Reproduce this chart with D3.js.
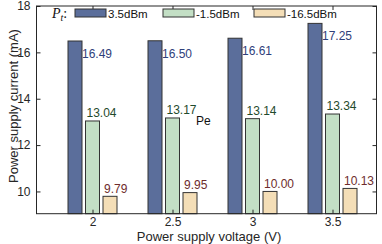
<!DOCTYPE html>
<html>
<head>
<meta charset="utf-8">
<script src="https://cdn.jsdelivr.net/npm/d3@7"></script>
<style>
  body { margin: 0; background: #fff; }
  text { font-family: "Liberation Sans", Arial, sans-serif; }
</style>
</head>
<body>
<svg id="chart" width="382" height="244"></svg>
<script>
// data
let voltages = [2, 2.5, 3, 3.5]
let seriesNames = ["3.5dBm", "-1.5dBm", "-16.5dBm"]
let current_3_5 = [16.49, 16.50, 16.61, 17.25]
let current_m1_5 = [13.04, 13.17, 13.14, 13.34]
let current_m16_5 = [9.79, 9.95, 10.00, 10.13]
let yTicks = [10, 12, 14, 16, 18]

let series = [current_3_5, current_m1_5, current_m16_5]
let fills = ["#5b6e9b", "#c3dfc5", "#f4deb7"]
let labelColors = ["#2f407a", "#1f4a2c", "#6e2c2c"]

let svg = d3.select("#chart")

let plotL = 36.5, plotR = 376.5, plotT = 6, plotB = 213.7

// x is numeric (voltage), like the original matlab bar plot
let x = d3.scaleLinear().domain([1.65, 3.775]).range([plotL, plotR])
let y = d3.scaleLinear().domain([9.04, 18]).range([plotB, plotT])

let barW = 14
let offsets = [-17.5, 0, 17.5]

// bars
series.forEach(function (vals, s) {
    let g = svg.append("g")
    g.selectAll("rect")
        .data(vals)
        .enter()
        .append("rect")
        .attr("x", function (d, i) { return x(voltages[i]) + offsets[s] - barW / 2 })
        .attr("y", function (d) { return y(d) })
        .attr("width", barW)
        .attr("height", function (d) { return plotB - y(d) })
        .style("fill", fills[s])
        .style("stroke", "#333")
        .style("stroke-width", 1)
})

// value labels
svg.append("g").selectAll("text")
    .data(current_3_5).enter()
    .append("text")
    .attr("x", function (d, i) { return x(voltages[i]) + offsets[0] + barW / 2 })
    .attr("y", function (d) { return y(d - 0.55) + 4 })
    .attr("font-size", "12px")
    .style("fill", labelColors[0])
    .text(function (d) { return d.toFixed(2) })

svg.append("g").selectAll("text")
    .data(current_m1_5).enter()
    .append("text")
    .attr("x", function (d, i) { return x(voltages[i]) + offsets[1] - barW / 2 + 1 })
    .attr("y", function (d) { return y(d) - 4 })
    .attr("font-size", "12px")
    .style("fill", labelColors[1])
    .text(function (d) { return d.toFixed(2) })

svg.append("g").selectAll("text")
    .data(current_m16_5).enter()
    .append("text")
    .attr("x", function (d, i) { return x(voltages[i]) + offsets[2] - barW / 2 + 1 })
    .attr("y", function (d) { return y(d) - 3.5 })
    .attr("font-size", "12px")
    .style("fill", labelColors[2])
    .text(function (d) { return d.toFixed(2) })

// axes box with inward ticks
let axisColor = "#262626"
svg.append("rect")
    .attr("x", plotL).attr("y", plotT)
    .attr("width", plotR - plotL).attr("height", plotB - plotT)
    .style("fill", "none").style("stroke", axisColor).style("stroke-width", 1)

let yAxis = svg.append("g")
    .attr("transform", "translate(" + plotL + ",0)")
    .call(d3.axisLeft(y).tickValues(yTicks).tickSize(-4).tickPadding(6))
let yAxisR = svg.append("g")
    .attr("transform", "translate(" + plotR + ",0)")
    .call(d3.axisRight(y).tickValues(yTicks).tickSize(-4).tickFormat(""))
let xAxis = svg.append("g")
    .attr("transform", "translate(0," + plotB + ")")
    .call(d3.axisBottom(x).tickValues(voltages).tickSize(-4).tickPadding(4).tickFormat(d3.format("")))
let xAxisT = svg.append("g")
    .attr("transform", "translate(0," + plotT + ")")
    .call(d3.axisTop(x).tickValues(voltages).tickSize(-4).tickFormat(""))

;[yAxis, yAxisR, xAxis, xAxisT].forEach(function (a) {
    a.select(".domain").remove()
    a.selectAll("line").style("stroke", axisColor)
    a.selectAll("text")
        .style("font-family", "Liberation Sans, Arial, sans-serif")
        .style("font-size", "12px")
        .style("fill", axisColor)
})

// axis titles
svg.append("text")
    .attr("x", 209)
    .attr("y", 240.5)
    .attr("text-anchor", "middle")
    .attr("font-size", "13px")
    .style("fill", axisColor)
    .text("Power supply voltage (V)")

svg.append("text")
    .attr("transform", "translate(18,106) rotate(-90)")
    .attr("text-anchor", "middle")
    .attr("font-size", "13px")
    .style("fill", axisColor)
    .text("Power supply current (mA)")

// legend
let legend = svg.append("g")
let pt = legend.append("text")
    .attr("x", 52)
    .attr("y", 18)
    .style("font-family", "Liberation Serif, Times New Roman, serif")
    .style("font-style", "italic")
    .attr("font-size", "14px")
    .style("fill", "#111")
pt.append("tspan").text("P")
pt.append("tspan").attr("font-size", "10px").attr("dy", 3).text("t")
pt.append("tspan").attr("dy", -3).style("font-style", "normal").text(":")

let legendX = [75, 163, 254]
legend.selectAll("rect")
    .data(seriesNames).enter()
    .append("rect")
    .attr("x", function (d, i) { return legendX[i] })
    .attr("y", 9)
    .attr("width", 31)
    .attr("height", 8)
    .style("fill", function (d, i) { return fills[i] })
    .style("stroke", "#333")
legend.selectAll("text.lab")
    .data(seriesNames).enter()
    .append("text")
    .attr("class", "lab")
    .attr("x", function (d, i) { return legendX[i] + 33 })
    .attr("y", 17.5)
    .attr("font-size", "11.5px")
    .style("fill", "#111")
    .text(function (d) { return d })

// stray annotation in the original
svg.append("text")
    .attr("x", 196)
    .attr("y", 125)
    .attr("font-size", "12px")
    .style("fill", "#111")
    .text("Pe")
</script>
</body>
</html>
